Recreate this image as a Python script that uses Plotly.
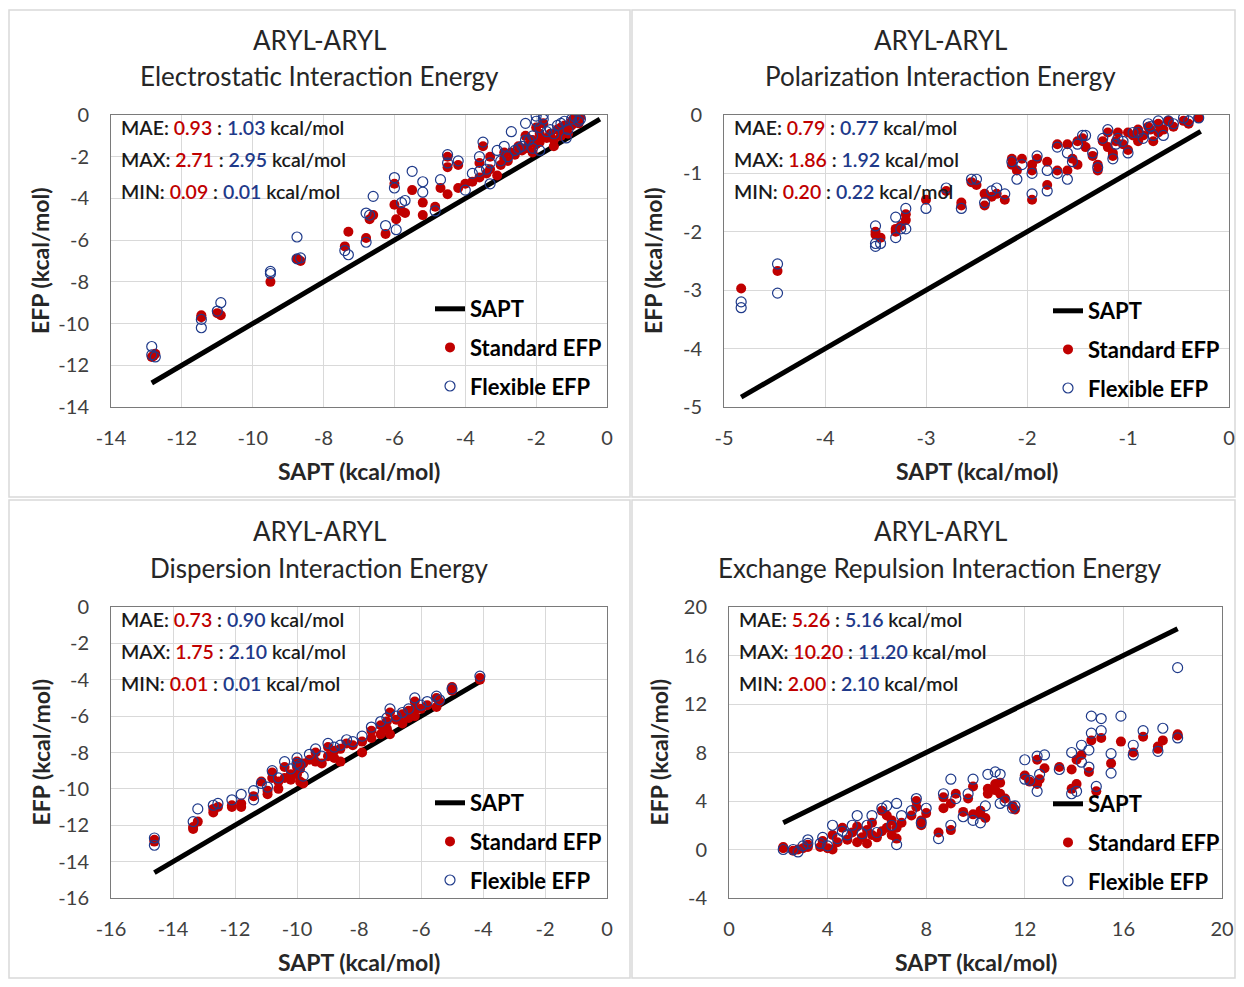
import plotly.graph_objects as go

# The page shows the figure with an 8px body margin, so figure pixel = page pixel - 8.
OFF = 8
W, H = 1244 - 2 * OFF, 987 - 2 * OFF
FONT = "Lato"
RED = "#C00000"
BLUE = "#1F3A8A"

# ---------------- data ----------------
# Panel 1: Electrostatic
es_sapt_line = [-12.85, -0.2]
es_std_x = [-12.85, -12.8, -12.75, -11.45, -11.45, -11.0, -10.9, -9.5, -8.75, -8.65, -7.4, -7.3, -6.8, -6.7, -6.6,
            -6.25, -6.0, -6.0, -5.95, -5.8, -5.7, -5.5, -5.2, -5.2, -4.85, -4.7, -4.5, -4.5, -4.5, -4.2, -4.2, -4.0,
            -3.8, -3.6, -3.6, -3.5, -3.3, -3.3, -3.1, -2.9, -2.9, -2.7, -2.5, -2.3, -2.3, -2.1, -2.1, -2.0, -1.9,
            -1.9, -1.8, -1.7, -1.5, -1.5, -1.3, -1.3, -1.15, -1.0, -1.0, -0.9, -0.8, -0.75, -2.4, -2.2, -2.6, -1.6,
            -1.4, -3.4, -3.0, -2.8, -1.2, -1.1, -2.0, -0.95, -0.85]
es_std_y = [-11.6, -11.55, -11.45, -9.6, -9.7, -9.5, -9.6, -8.0, -6.9, -7.0, -6.3, -5.6, -5.9, -5.0, -4.8,
            -5.7, -3.3, -4.3, -5.0, -4.6, -4.7, -3.6, -4.2, -4.8, -4.4, -3.5, -2.0, -2.5, -3.8, -2.4, -3.5, -3.3,
            -3.2, -2.3, -3.0, -1.5, -2.0, -2.6, -2.9, -1.8, -2.1, -1.8, -1.5, -1.0, -1.6, -1.2, -1.8, -0.6, -0.9,
            -1.3, -0.4, -1.1, -1.2, -1.5, -0.6, -1.0, -0.8, -0.3, -0.5, -0.2, -0.4, -0.1, -1.7, -1.4, -1.9, -0.9,
            -0.7, -2.8, -2.4, -2.2, -0.5, -0.9, -1.4, -0.2, -0.15]
es_flex_x = [-12.85, -12.85, -12.75, -11.45, -11.45, -11.0, -10.9, -9.5, -9.5, -8.75, -8.75, -8.65, -7.4, -7.3,
             -6.8, -6.8, -6.7, -6.6, -6.25, -6.0, -6.0, -5.95, -5.8, -5.7, -5.5, -5.2, -5.2, -4.85, -4.7, -4.5,
             -4.5, -4.2, -4.0, -3.8, -3.6, -3.6, -3.5, -3.3, -3.3, -3.1, -2.9, -2.7, -2.5, -2.3, -2.3, -2.1, -2.1,
             -2.0, -2.0, -1.9, -1.9, -1.8, -1.8, -1.7, -1.5, -1.3, -1.15, -1.0, -0.9, -0.8, -0.75, -2.4, -2.2,
             -2.6, -1.6, -1.4, -3.4, -3.0, -2.8, -1.2, -1.1]
es_flex_y = [-11.1, -11.5, -11.6, -9.8, -10.2, -9.4, -9.0, -7.5, -7.6, -5.85, -6.9, -6.85, -6.5, -6.7,
             -4.7, -6.1, -4.8, -3.9, -5.3, -3.0, -3.5, -5.5, -4.2, -4.1, -2.7, -3.2, -3.7, -4.6, -3.1, -1.9,
             -2.3, -2.2, -3.6, -2.8, -2.0, -2.7, -1.3, -2.3, -3.3, -1.7, -1.5, -0.8, -1.6, -0.4, -1.2, -1.0, -1.6,
             -0.05, -0.3, -0.6, -1.7, 0.0, -0.2, -0.8, -0.9, -0.4, -1.1, -0.2, -0.1, -0.3, -0.2, -1.5, -1.2,
             -1.7, -0.7, -0.5, -2.6, -2.2, -2.0, -0.3, -0.7]

# Panel 2: Polarization
po_sapt_line = [-4.83, -0.28]
po_std_x = [-4.83, -4.47, -3.5, -3.5, -3.45, -3.3, -3.3, -3.25, -3.2, -3.2, -3.0, -2.8, -2.65, -2.65, -2.55,
            -2.5, -2.42, -2.42, -2.35, -2.3, -2.22, -2.15, -2.15, -2.1, -2.05, -1.95, -1.95, -1.95, -1.9, -1.8,
            -1.8, -1.7, -1.7, -1.6, -1.6, -1.55, -1.5, -1.5, -1.42, -1.35, -1.3, -1.3, -1.25, -1.2, -1.2, -1.15,
            -1.15, -1.1, -1.05, -1.0, -1.0, -0.9, -0.9, -0.85, -0.8, -0.75, -0.7, -0.7, -0.65, -0.6, -0.45,
            -0.4, -0.3, -1.45, -1.12, -0.95, -0.78, -0.55]
po_std_y = [-2.97, -2.67, -2.0, -2.05, -2.1, -1.95, -2.0, -1.9, -1.7, -1.8, -1.45, -1.3, -1.5, -1.55, -1.15,
            -1.2, -1.55, -1.35, -1.4, -1.35, -1.45, -0.75, -0.85, -0.95, -0.75, -0.85, -1.45, -0.95, -0.75, -0.8,
            -1.2, -0.5, -0.95, -0.5, -0.95, -0.75, -0.45, -0.85, -0.55, -0.7, -0.85, -0.95, -0.45, -0.3, -0.55,
            -0.65, -0.7, -0.3, -0.5, -0.6, -0.3, -0.25, -0.45, -0.35, -0.2, -0.45, -0.15, -0.3, -0.25, -0.1,
            -0.1, -0.15, -0.05, -0.4, -0.45, -0.35, -0.25, -0.2]
po_flex_x = [-4.83, -4.83, -4.47, -4.47, -3.5, -3.5, -3.5, -3.45, -3.3, -3.3, -3.25, -3.2, -3.2, -3.0, -2.8,
             -2.65, -2.55, -2.5, -2.42, -2.35, -2.3, -2.22, -2.15, -2.1, -2.05, -1.95, -1.95, -1.9, -1.8, -1.8,
             -1.7, -1.7, -1.6, -1.6, -1.55, -1.5, -1.42, -1.35, -1.3, -1.25, -1.2, -1.15, -1.1, -1.05, -1.0,
             -0.9, -0.85, -0.8, -0.75, -0.7, -0.65, -0.6, -0.45, -0.4, -0.3, -1.45, -1.12, -0.95, -0.78, -0.55]
po_flex_y = [-3.2, -3.3, -2.55, -3.05, -1.9, -2.2, -2.25, -2.2, -1.75, -2.1, -1.95, -1.6, -1.95, -1.6, -1.25,
             -1.6, -1.1, -1.1, -1.5, -1.3, -1.25, -1.35, -0.8, -1.1, -0.85, -1.0, -1.35, -0.7, -1.3, -0.95,
             -0.55, -1.0, -1.1, -0.65, -0.8, -0.5, -0.35, -0.65, -0.9, -0.4, -0.25, -0.75, -0.4, -0.45, -0.65,
             -0.3, -0.4, -0.15, -0.35, -0.1, -0.35, -0.1, -0.05, -0.1, -0.05, -0.35, -0.5, -0.3, -0.2, -0.15]

# Panel 3: Dispersion
di_sapt_line = [-14.6, -4.1]
di_std_x = [-14.6, -14.6, -13.35, -13.35, -13.2, -12.7, -12.7, -12.55, -12.1, -12.1, -11.8, -11.8, -11.4,
            -11.15, -10.95, -10.95, -10.8, -10.8, -10.6, -10.6, -10.4, -10.4, -10.2, -10.2, -10.0, -10.0, -10.0,
            -9.9, -9.9, -9.8, -9.8, -9.6, -9.4, -9.4, -9.2, -9.0, -9.0, -8.8, -8.8, -8.6, -8.6, -8.4, -8.2,
            -7.9, -7.9, -7.6, -7.6, -7.3, -7.3, -7.1, -7.1, -7.0, -7.0, -6.8, -6.6, -6.6, -6.4, -6.4, -6.2, -6.2,
            -6.2, -6.0, -5.8, -5.5, -5.5, -5.4, -5.0, -5.0, -4.1, -4.1]
di_std_y = [-12.8, -12.9, -12.2, -12.1, -11.8, -11.3, -11.1, -11.0, -10.9, -11.0, -10.8, -11.0, -10.4,
            -9.6, -10.3, -10.1, -9.1, -9.4, -9.6, -10.0, -9.4, -8.8, -9.2, -9.5, -8.5, -8.8, -9.2,
            -8.9, -9.6, -9.7, -8.6, -8.4, -8.0, -8.5, -8.6, -7.7, -8.2, -7.9, -8.3, -7.8, -8.5, -7.5, -7.6,
            -7.4, -8.0, -6.8, -7.2, -6.5, -7.0, -6.3, -6.7, -5.8, -7.0, -6.2, -5.9, -6.4, -5.7, -6.1, -5.2, -5.6,
            -6.0, -5.6, -5.4, -5.0, -5.5, -5.2, -4.6, -4.4, -3.9, -4.0]
di_flex_x = [-14.6, -14.6, -13.35, -13.2, -12.7, -12.55, -12.1, -11.8, -11.4, -11.4, -11.15, -10.95, -10.8,
             -10.6, -10.4, -10.2, -10.0, -10.0, -9.9, -9.8, -9.6, -9.4, -9.2, -9.0, -8.8, -8.6, -8.4, -8.2,
             -7.9, -7.6, -7.3, -7.1, -7.0, -6.8, -6.6, -6.4, -6.2, -6.0, -5.8, -5.5, -5.4, -5.0, -4.1]
di_flex_y = [-12.7, -13.1, -11.8, -11.1, -10.9, -10.8, -10.6, -10.3, -10.1, -10.6, -9.7, -9.9, -9.0,
             -9.4, -8.5, -8.9, -8.3, -8.6, -8.7, -9.3, -8.1, -7.8, -8.2, -7.5, -7.7, -7.6, -7.3, -7.4,
             -7.1, -6.6, -6.3, -6.1, -5.6, -6.0, -5.8, -5.6, -5.0, -5.4, -5.2, -4.9, -5.1, -4.5, -3.8]

# Panel 4: Exchange repulsion
ex_sapt_line = [2.2, 18.2]
ex_std_x = [2.2, 2.2, 2.6, 2.8, 3.0, 3.2, 3.2, 3.7, 3.8, 4.0, 4.2, 4.2, 4.4, 4.6, 4.8, 5.0, 5.2, 5.2, 5.4,
            5.6, 5.6, 5.8, 5.8, 6.0, 6.2, 6.2, 6.4, 6.4, 6.6, 6.6, 6.8, 6.8, 7.0, 7.4, 7.6, 7.6, 7.8, 7.8, 8.0,
            8.5, 8.7, 8.7, 9.0, 9.0, 9.2, 9.5, 9.7, 9.9, 9.9, 10.2, 10.2, 10.4, 10.5, 10.5, 10.8, 10.8, 11.0,
            11.0, 11.2, 11.5, 11.6, 12.0, 12.2, 12.5, 12.5, 12.6, 12.8, 13.4, 13.9, 13.9, 14.1, 14.1, 14.3,
            14.6, 14.7, 14.9, 15.1, 15.5, 15.9, 16.4, 16.8, 17.4, 17.4, 17.6, 18.2, 18.2]
ex_std_y = [0.1, 0.2, -0.1, 0.0, 0.1, 0.4, 0.2, 0.2, 0.7, 0.1, 1.2, 0.0, 0.6, 1.8, 0.8, 1.4, 1.9, 0.6, 1.0,
            1.6, 0.5, 2.2, 1.2, 1.0, 3.2, 1.5, 2.8, 1.8, 1.2, 2.4, 0.9, 1.8, 2.2, 2.8, 4.0, 3.5, 2.4, 2.0, 3.0,
            1.4, 3.4, 4.3, 3.8, 1.6, 4.6, 3.1, 4.2, 5.2, 2.9, 2.9, 3.2, 2.6, 5.0, 4.6, 5.4, 4.9, 4.6,
            5.5, 4.2, 3.6, 3.3, 6.1, 5.6, 7.4, 5.4, 5.8, 6.7, 6.8, 6.6, 5.0, 7.4, 5.4, 7.8,
            6.4, 9.0, 4.8, 9.2, 7.1, 8.9, 8.0, 9.3, 8.3, 8.5, 9.0, 9.5, 9.4]
ex_flex_x = [2.2, 2.6, 2.8, 3.0, 3.2, 3.2, 3.7, 3.8, 4.0, 4.2, 4.4, 4.6, 4.8, 5.0, 5.2, 5.4, 5.6, 5.8, 6.0,
             6.2, 6.4, 6.6, 6.8, 6.8, 7.0, 7.4, 7.6, 7.8, 8.0, 8.5, 8.7, 9.0, 9.0, 9.2, 9.5, 9.7, 9.9, 9.9,
             10.2, 10.4, 10.5, 10.8, 11.0, 11.0, 11.2, 11.5, 11.6, 12.0, 12.0, 12.2, 12.5, 12.5, 12.6, 12.8,
             13.4, 13.9, 13.9, 14.1, 14.3, 14.3, 14.6, 14.6, 14.7, 14.7, 14.9, 15.1, 15.1, 15.5, 15.5, 15.9,
             16.4, 16.4, 16.8, 17.4, 17.6, 18.2, 18.2]
ex_flex_y = [0.0, 0.0, -0.2, 0.3, 0.8, 0.5, 0.5, 1.0, 0.3, 2.0, 0.9, 1.5, 1.2, 2.0, 2.8, 1.3, 2.0, 2.8, 1.4,
             3.4, 3.6, 2.0, 3.8, 0.4, 2.8, 3.2, 4.2, 2.2, 3.4, 0.9, 4.6, 5.8, 2.0, 4.2, 2.7, 4.6, 5.8, 2.4,
             2.2, 3.6, 6.2, 6.4, 6.2, 3.8, 4.0, 3.4, 3.6, 7.4, 5.8, 5.7, 7.7, 4.8, 6.2, 7.8,
             6.6, 8.0, 4.6, 4.8, 8.6, 7.2, 8.2, 6.8, 11.0, 9.6, 5.2, 10.8, 9.8, 7.9, 6.3, 11.0,
             8.6, 7.8, 9.8, 8.1, 10.0, 15.0, 9.2]

titles = ["Electrostatic Interaction Energy", "Polarization Interaction Energy",
          "Dispersion Interaction Energy", "Exchange Repulsion Interaction Energy"]
title_top = "ARYL-ARYL"
stats = [
    ("0.93", "1.03", "2.71", "2.95", "0.09", "0.01"),
    ("0.79", "0.77", "1.86", "1.92", "0.20", "0.22"),
    ("0.73", "0.90", "1.75", "2.10", "0.01", "0.01"),
    ("5.26", "5.16", "10.20", "11.20", "2.00", "2.10"),
]
x_ticks = [[-14, -12, -10, -8, -6, -4, -2, 0], [-5, -4, -3, -2, -1, 0],
           [-16, -14, -12, -10, -8, -6, -4, -2, 0], [0, 4, 8, 12, 16, 20]]
y_ticks = [[-14, -12, -10, -8, -6, -4, -2, 0], [-5, -4, -3, -2, -1, 0],
           [-16, -14, -12, -10, -8, -6, -4, -2, 0], [-4, 0, 4, 8, 12, 16, 20]]
x_tick_text = [["-14", "-12", "-10", "-8", "-6", "-4", "-2", "0"], ["-5", "-4", "-3", "-2", "-1", "0"],
               ["-16", "-14", "-12", "-10", "-8", "-6", "-4", "-2", "0"], ["0", "4", "8", "12", "16", "20"]]
y_tick_text = [["-14", "-12", "-10", "-8", "-6", "-4", "-2", "0"], ["-5", "-4", "-3", "-2", "-1", "0"],
               ["-16", "-14", "-12", "-10", "-8", "-6", "-4", "-2", "0"], ["-4", "0", "4", "8", "12", "16", "20"]]
x_title = "SAPT (kcal/mol)"
y_title = "EFP (kcal/mol)"
series_names = ["SAPT", "Standard EFP", "Flexible EFP"]

panels = [
    (es_sapt_line, es_std_x, es_std_y, es_flex_x, es_flex_y),
    (po_sapt_line, po_std_x, po_std_y, po_flex_x, po_flex_y),
    (di_sapt_line, di_std_x, di_std_y, di_flex_x, di_flex_y),
    (ex_sapt_line, ex_std_x, ex_std_y, ex_flex_x, ex_flex_y),
]

# ---------------- layout geometry (page pixels) ----------------
plot_px = [(111, 607, 115, 407), (724, 1229, 115, 407), (111, 607, 607, 898), (729, 1222, 607, 898)]
box_px = [(9, 10, 630, 497), (632, 10, 1235, 497), (9, 500, 630, 978), (632, 500, 1235, 978)]
title_px = [(319, 40, 76), (940, 40, 76), (319, 531, 568), (940, 531, 568)]
legend_px = [(430, 288), (1048, 290), (430, 782), (1048, 783)]


def fx(p):
    return (p - OFF) / W


def fy(p):
    return 1 - (p - OFF) / H


fig = go.Figure()
annotations = []
shapes = []

for i, (line, sx, sy, flx, fly) in enumerate(panels):
    n = "" if i == 0 else str(i + 1)
    xa, ya = "x" + n, "y" + n
    lg = "legend" + n
    fig.add_trace(go.Scatter(x=line, y=line, mode="lines", name=series_names[0],
                             line=dict(color="black", width=5), xaxis=xa, yaxis=ya,
                             legend=lg, legendgroup=f"a{i}"))
    fig.add_trace(go.Scatter(x=sx, y=sy, mode="markers", name=series_names[1],
                             marker=dict(color=RED, size=10, symbol="circle"),
                             xaxis=xa, yaxis=ya, legend=lg, legendgroup=f"b{i}"))
    fig.add_trace(go.Scatter(x=flx, y=fly, mode="markers", name=series_names[2],
                             marker=dict(color=BLUE, size=10, symbol="circle-open", line=dict(width=1.2)),
                             xaxis=xa, yaxis=ya, legend=lg, legendgroup=f"c{i}"))

    x0, x1, y0, y1 = plot_px[i]
    axcommon = dict(showgrid=True, gridcolor="#d9d9d9", gridwidth=1, zeroline=False,
                    showline=True, linecolor="#7a7a7a", linewidth=1, mirror=True, ticks="",
                    tickfont=dict(family=FONT, size=20, color="#404040"), fixedrange=True,
                    ticklabeloverflow="allow")
    fig.layout["xaxis" + n] = dict(domain=[fx(x0), fx(x1)], range=[x_ticks[i][0], x_ticks[i][-1]],
                                   tickvals=x_ticks[i], ticktext=x_tick_text[i], anchor=ya,
                                   ticklabelstandoff=13, **axcommon)
    fig.layout["yaxis" + n] = dict(domain=[fy(y1), fy(y0)], range=[y_ticks[i][0], y_ticks[i][-1]],
                                   tickvals=y_ticks[i], ticktext=y_tick_text[i], anchor=xa,
                                   ticklabelstandoff=17, **axcommon)

    lx, ly = legend_px[i]
    fig.layout[lg] = dict(x=fx(lx), y=fy(ly), xanchor="left", yanchor="top", bgcolor="rgba(0,0,0,0)",
                          font=dict(family=FONT, size=22, color="black", weight="bold"),
                          tracegroupgap=7, itemwidth=30, traceorder="grouped")

    # chart box
    bx0, by0, bx1, by1 = box_px[i]
    shapes.append(dict(type="rect", xref="paper", yref="paper", x0=fx(bx0), x1=fx(bx1), y0=fy(by1),
                       y1=fy(by0), line=dict(color="#d9d9d9", width=1.5), layer="below"))

    # titles
    tx, t1, t2 = title_px[i]
    for txt, ty in ((title_top, t1), (titles[i], t2)):
        annotations.append(dict(text=txt, x=fx(tx), y=fy(ty), xref="paper", yref="paper",
                                xanchor="center", yanchor="middle", showarrow=False,
                                font=dict(family=FONT, size=26, color="#262626")))
    # axis titles
    annotations.append(dict(text="<b>" + x_title + "</b>", x=fx((x0 + x1) / 2), y=fy(y1 + 64), xref="paper",
                            yref="paper", xanchor="center", yanchor="middle", showarrow=False,
                            font=dict(family=FONT, size=23, color="#262626")))
    annotations.append(dict(text="<b>" + y_title + "</b>", x=fx(x0 - 71), y=fy((y0 + y1) / 2), xref="paper",
                            yref="paper", xanchor="center", yanchor="middle", showarrow=False, textangle=-90,
                            font=dict(family=FONT, size=23, color="#262626")))
    # stats text
    s = stats[i]
    labels = ["MAE", "MAX", "MIN"]
    for k in range(3):
        txt = (f"{labels[k]}: <span style='color:{RED}'>{s[2*k]}</span> : "
               f"<span style='color:{BLUE}'>{s[2*k+1]}</span> kcal/mol")
        annotations.append(dict(text=txt, x=fx(x0 + 8), y=fy(y0 + 12 + 32 * k), xref="paper", yref="paper",
                                xanchor="left", yanchor="middle", showarrow=False,
                                font=dict(family=FONT, size=19.5, color="#1a1a1a", weight=600)))

fig.update_layout(width=W, height=H, margin=dict(l=0, r=0, t=0, b=0, autoexpand=False),
                  paper_bgcolor="white", plot_bgcolor="white", annotations=annotations, shapes=shapes,
                  showlegend=True)
fig.write_html("out.html")
